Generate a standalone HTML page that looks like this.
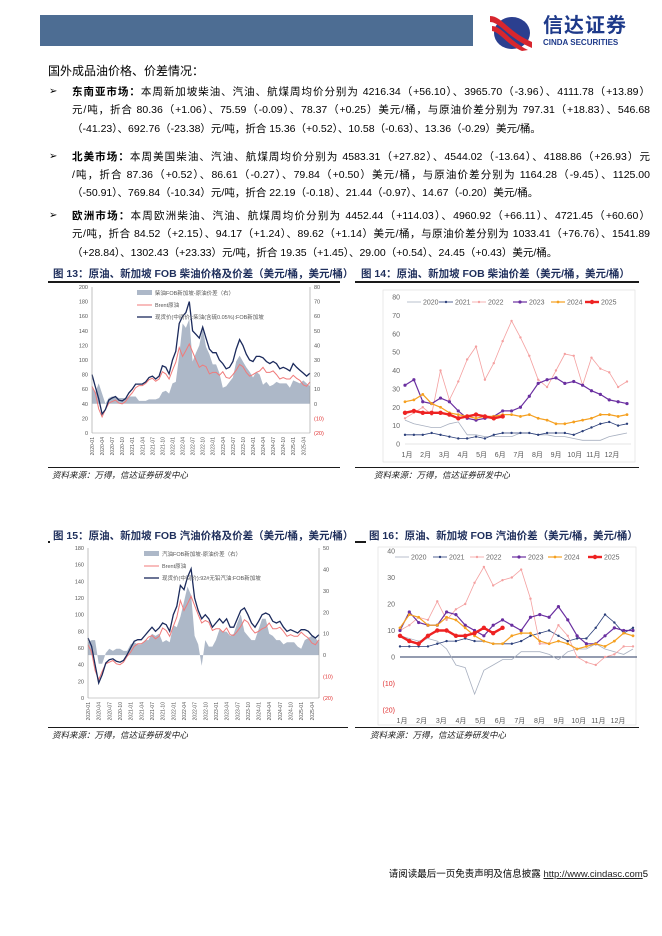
<!DOCTYPE html>
<html><head><meta charset="utf-8">
<style>
body{margin:0;background:#fff;}
#page{position:relative;width:662px;height:936px;overflow:hidden;background:#fff;font-family:"Liberation Sans","Noto Sans CJK SC",sans-serif;color:#000;}
.abs{position:absolute;}
.ln{position:absolute;left:72px;width:578px;font-size:10.5px;white-space:nowrap;text-align:justify;text-align-last:justify;line-height:14px;}
.ln.last{text-align-last:left;}
.bul{position:absolute;left:49px;font-size:10px;}
.cap{position:absolute;font-size:10.5px;font-weight:bold;color:#1f2f5c;background:#fff;padding:0 3px;white-space:nowrap;line-height:13px;}
.rule{position:absolute;height:1.5px;background:#1a1a1a;}
.src{position:absolute;font-size:8.5px;font-style:italic;color:#222;white-space:nowrap;}
svg text{font-family:"Liberation Sans","Noto Sans CJK SC",sans-serif;}
</style></head><body>
<div id="page">
<div class="abs" style="left:40px;top:15px;width:433px;height:31px;background:#4d6d93;"></div>
<svg class="abs" style="left:488px;top:12px" width="46" height="40" viewBox="0 0 46 40">
<ellipse cx="24" cy="21" rx="18" ry="16" fill="#2b3f8f"/>
<path d="M2 4 C14 4 20 20 44 30 L44 36 C20 26 12 10 2 10Z" fill="#d7262e"/>
<path d="M4 14 C14 14 20 28 40 38 L34 39 C18 32 12 20 4 19Z" fill="#d7262e"/>
</svg>
<div class="abs" style="left:543px;top:15px;font-size:20px;font-weight:bold;color:#1e3a8a;letter-spacing:1px;line-height:22px;">信达证券</div>
<div class="abs" style="left:543px;top:38px;font-size:8px;font-weight:bold;color:#1e3a8a;line-height:9px;">CINDA SECURITIES</div>

<div class="abs" style="left:48px;top:64px;font-size:12px;line-height:15px;">国外成品油价格、价差情况：</div>

<div class="bul" style="top:86px">➢</div>
<div class="ln" style="top:85px"><b>东南亚市场：</b>本周新加坡柴油、汽油、航煤周均价分别为 4216.34（+56.10）、3965.70（-3.96）、4111.78（+13.89）</div>
<div class="ln" style="top:103px">元/吨，折合 80.36（+1.06）、75.59（-0.09）、78.37（+0.25）美元/桶，与原油价差分别为 797.31（+18.83）、546.68</div>
<div class="ln last" style="top:122px">（-41.23）、692.76（-23.38）元/吨，折合 15.36（+0.52）、10.58（-0.63）、13.36（-0.29）美元/桶。</div>

<div class="bul" style="top:151px">➢</div>
<div class="ln" style="top:150px"><b>北美市场：</b>本周美国柴油、汽油、航煤周均价分别为 4583.31（+27.82）、4544.02（-13.64）、4188.86（+26.93）元</div>
<div class="ln" style="top:168px">/吨，折合 87.36（+0.52）、86.61（-0.27）、79.84（+0.50）美元/桶，与原油价差分别为 1164.28（-9.45）、1125.00</div>
<div class="ln last" style="top:186px">（-50.91）、769.84（-10.34）元/吨，折合 22.19（-0.18）、21.44（-0.97）、14.67（-0.20）美元/桶。</div>

<div class="bul" style="top:210px">➢</div>
<div class="ln" style="top:209px"><b>欧洲市场：</b>本周欧洲柴油、汽油、航煤周均价分别为 4452.44（+114.03）、4960.92（+66.11）、4721.45（+60.60）</div>
<div class="ln" style="top:227px">元/吨，折合 84.52（+2.15）、94.17（+1.24）、89.62（+1.14）美元/桶，与原油价差分别为 1033.41（+76.76）、1541.89</div>
<div class="ln last" style="top:246px">（+28.84）、1302.43（+23.33）元/吨，折合 19.35（+1.45）、29.00（+0.54）、24.45（+0.43）美元/桶。</div>

<div class="rule" style="left:48px;top:281px;width:292px"></div>
<div class="cap" style="left:50px;top:268px">图 13：原油、新加坡 FOB 柴油价格及价差（美元/桶，美元/桶）</div>
<div class="rule" style="left:355px;top:281px;width:284px"></div>
<div class="cap" style="left:358px;top:268px">图 14：原油、新加坡 FOB 柴油价差（美元/桶，美元/桶）</div>
<div class="rule" style="left:48px;top:467px;width:292px;height:1px"></div>
<div class="rule" style="left:355px;top:467px;width:284px;height:1px"></div>
<div class="src" style="left:52px;top:469px">资料来源：万得，信达证券研发中心</div>
<div class="src" style="left:374px;top:469px">资料来源：万得，信达证券研发中心</div>

<div class="rule" style="left:48px;top:541px;width:300px"></div>
<div class="cap" style="left:50px;top:530px">图 15：原油、新加坡 FOB 汽油价格及价差（美元/桶，美元/桶）</div>
<div class="rule" style="left:355px;top:541px;width:284px"></div>
<div class="cap" style="left:366px;top:530px">图 16：原油、新加坡 FOB 汽油价差（美元/桶，美元/桶）</div>
<div class="rule" style="left:48px;top:727px;width:300px;height:1px"></div>
<div class="rule" style="left:355px;top:727px;width:284px;height:1px"></div>
<div class="src" style="left:52px;top:729px">资料来源：万得，信达证券研发中心</div>
<div class="src" style="left:370px;top:729px">资料来源：万得，信达证券研发中心</div>

<div class="abs" style="right:14px;top:866px;font-size:9.5px;white-space:nowrap;">请阅读最后一页免责声明及信息披露 <span style="text-decoration:underline;color:#222;">http://www.cindasc.com</span>5</div>

<svg id="c" class="abs" style="left:0;top:0" width="662" height="936"></svg>
</div>
<script>
// ---- Chart 13 / 15 data (monthly, 2020-01 .. 2025-06) ----
const monthLabels = ["2020-01","2020-04","2020-07","2020-10","2021-01","2021-04","2021-07","2021-10","2022-01","2022-04","2022-07","2022-10","2023-01","2023-04","2023-07","2023-10","2024-01","2024-04","2024-07","2024-10","2025-01","2025-04"];
const brent = [64,55,33,22,32,41,43,45,41,40,43,50, 55,62,65,65,68,73,75,71,74,84,81,74, 86,97,117,105,113,122,111,100,90,93,91,81, 83,83,79,84,76,75,80,86,94,91,83,78, 80,83,85,90,83,83,85,80,74,76,74,74, 79,75,72,66,64,70];
const dieselSG = [80,63,47,26,32,45,48,50,45,44,47,55, 60,67,67,67,70,76,78,74,78,92,90,81, 100,112,150,160,165,180,140,135,130,145,130,115, 110,110,100,95,88,90,98,115,128,120,108,100, 98,105,105,103,98,95,98,95,88,90,88,85, 95,90,86,82,78,82];
const dieselSpread = [11,8,14,7,0,4,5,5,4,4,4,5, 5,5,2,2,2,3,3,3,4,8,9,7, 14,15,33,55,52,58,29,35,40,52,39,34, 27,27,21,11,12,15,18,29,33,29,25,22, 18,22,20,13,15,12,13,15,14,14,14,11, 16,15,14,16,14,12];
const gasSG = [72,62,40,18,28,42,46,47,44,43,45,52, 60,68,70,70,75,80,85,80,84,90,88,80, 100,110,135,130,145,155,120,105,95,100,95,85, 90,95,90,95,85,85,95,105,108,100,90,85, 92,100,102,100,92,90,92,85,80,82,80,78, 82,82,80,75,72,76];
const gasSpread = [6,7,7,-4,-4,1,3,2,3,3,2,2, 5,6,5,5,7,7,10,9,10,6,7,6, 14,13,18,25,32,28,9,5,-5,7,4,4, 7,12,11,11,9,10,15,19,11,9,7,7, 12,17,17,10,9,7,7,5,6,6,6,4, 3,7,8,9,8,6];
// ---- Chart 14 / 16 data (bi-weekly points per year) ----
const months = ["1月","2月","3月","4月","5月","6月","7月","8月","9月","10月","11月","12月"];
const years = ["2020","2021","2022","2023","2024","2025"];
const d2020 = [13,11,10,9,9,11,12,5,5,4,4,4,4,6,6,5,5,4,4,3,2,2,2,4,5,6];
const d2021 = [5,5,5,6,5,4,3,3,4,3,5,6,6,6,6,5,6,6,6,5,7,9,11,12,10,11];
const d2022 = [14,17,20,16,40,24,34,46,53,35,44,56,67,58,48,35,31,40,49,48,32,47,41,39,31,34];
const d2023 = [32,35,23,22,25,23,18,14,13,14,15,18,18,20,26,33,35,36,33,34,32,29,27,24,23,22];
const d2024 = [23,24,27,22,20,17,16,15,14,15,15,16,16,15,16,14,13,11,11,12,13,14,16,16,15,16];
const d2025 = [17,18,17,17,17,16,14,15,16,15,14,15];
const g2020 = [8,7,6,7,6,3,-3,-4,-14,-5,-3,-1,-1,2,2,2,1,-1,2,3,3,5,3,2,1,3];
const g2021 = [4,4,4,4,5,6,6,7,6,6,5,5,5,6,8,9,10,8,6,7,7,11,16,13,9,11];
const g2022 = [10,12,15,14,21,14,18,20,28,34,27,29,30,33,22,5,5,12,8,0,-2,-3,0,1,4,4];
const g2023 = [10,17,13,12,12,17,16,12,10,8,12,14,12,10,15,16,15,19,14,8,5,5,8,11,10,10];
const g2024 = [11,16,15,12,12,15,14,11,8,6,5,5,8,9,9,6,5,6,5,3,4,5,4,6,9,8];
const g2025 = [8,6,5,8,10,10,8,8,9,11,9,11];

const NS="http://www.w3.org/2000/svg";
const svg=document.getElementById('c');
function mk(tag,attrs,parent){const e=document.createElementNS(NS,tag);for(const k in attrs)e.setAttribute(k,attrs[k]);(parent||svg).appendChild(e);return e;}
function txt(x,y,s,size,fill,anchor,extra){const t=mk('text',Object.assign({x:x,y:y,'font-size':size,fill:fill,'text-anchor':anchor||'start'},extra||{}));t.textContent=s;return t;}

function priceChart(o){
  const n=o.price.length;
  const X=i=>o.L+i*(o.R-o.L)/(n-1);
  const YL=v=>o.B-(v-o.lmin)/(o.lmax-o.lmin)*(o.B-o.T);
  const YR=v=>o.B-(v-o.rmin)/(o.rmax-o.rmin)*(o.B-o.T);
  const g=mk('g',{});
  
  
  let d='M'+X(0)+','+YR(0);
  o.spread.forEach((v,i)=>{d+=' L'+X(i).toFixed(1)+','+YR(v).toFixed(1);});
  d+=' L'+X(n-1)+','+YR(0)+' Z';
  const a=mk('path',{d:d,fill:'#adb8c8'},g);
  
  
  const pl=(arr,col,w,nm)=>{const p=mk('polyline',{points:arr.map((v,i)=>X(i).toFixed(1)+','+YL(v).toFixed(1)).join(' '),fill:'none',stroke:col,'stroke-width':w},g);
    
    };
  pl(o.brent,'#f07a7a',1,'brent-line');
  pl(o.price,'#1b2a5c',1.3,'product-price-line');
  mk('line',{x1:o.L,y1:o.T,x2:o.L,y2:o.B,stroke:'#999','stroke-width':0.6},g);
  mk('line',{x1:o.R,y1:o.T,x2:o.R,y2:o.B,stroke:'#999','stroke-width':0.6},g);
  mk('line',{x1:o.L,y1:o.B,x2:o.R,y2:o.B,stroke:'#999','stroke-width':0.6},g);
  o.lticks.forEach(v=>{const t=txt(o.L-4,YL(v)+2,String(v),5.5,'#555','end',{});
    
    });
  o.rticks.forEach(v=>{const t=txt(o.R+4,YR(v)+2,v<0?'('+(-v)+')':String(v),5.5,v<0?'#e03030':'#555','start',{});
    
    });
  monthLabels.forEach((s,k)=>{const x=X(k*3);const t=txt(x+2,o.B+4,s,5,'#555','end',{transform:'rotate(-90 '+(x+2)+' '+(o.B+4)+')'});
    
    });
  const lx=o.lx,ly=o.ly;
  mk('rect',{x:lx,y:ly-4,width:15,height:5,fill:'#adb8c8'},g);
  txt(lx+18,ly+1,o.leg[0],5.5,'#555');
  mk('line',{x1:lx,y1:ly+11,x2:lx+15,y2:ly+11,stroke:'#f07a7a','stroke-width':1},g);
  txt(lx+18,ly+13,'Brent原油',5.5,'#555');
  mk('line',{x1:lx,y1:ly+23,x2:lx+15,y2:ly+23,stroke:'#1b2a5c','stroke-width':1.3},g);
  txt(lx+18,ly+25,o.leg[2],5.5,'#555');
}
priceChart({name:'fig13-chart',L:92,R:310,T:287,B:433,lmin:0,lmax:200,rmin:-20,rmax:80,price:dieselSG,brent:brent,spread:dieselSpread,
  lticks:[0,20,40,60,80,100,120,140,160,180,200],rticks:[-20,-10,0,10,20,30,40,50,60,70,80],lx:137,ly:294,
  leg:['柴油FOB新加坡-原油价差（右）','','现货价(中间价):柴油(含硫0.05%):FOB新加坡']});
priceChart({name:'fig15-chart',L:88,R:319,T:548,B:698,lmin:0,lmax:180,rmin:-20,rmax:50,price:gasSG,brent:brent,spread:gasSpread,
  lticks:[0,20,40,60,80,100,120,140,160,180],rticks:[-20,-10,0,10,20,30,40,50],lx:144,ly:555,
  leg:['汽油FOB新加坡-原油价差（右）','','现货价(中间价):92#无铅汽油:FOB新加坡']});

const yrStyle=[{c:'#a8b0c0',w:0.8,m:0,nm:'series-2020'},{c:'#2b3f7a',w:0.8,m:1.2,nm:'series-2021'},{c:'#f4a0a0',w:0.8,m:1.2,nm:'series-2022'},{c:'#6a2fa0',w:1.2,m:1.6,nm:'series-2023'},{c:'#f5a020',w:1.2,m:1.4,nm:'series-2024'},{c:'#ee2222',w:2.4,m:2.2,nm:'series-2025'}];
function seasonChart(o){
  const g=mk('g',{});
  
  
  mk('rect',{x:o.bx,y:o.by,width:o.bw,height:o.bh,fill:'none',stroke:'#ddd','stroke-width':0.6},g);
  const X=k=>o.L+k*(o.R-o.L)/25;
  const Y=v=>o.B-(v-o.min)/(o.max-o.min)*(o.B-o.T);
  o.ticks.forEach(v=>{const t=txt(o.L-5,Y(v)+2.5,v<0?'('+(-v)+')':String(v),7,v<0?'#e03030':'#666','end');
    
    });
  const zl=mk('line',{x1:o.L,y1:Y(0),x2:o.R+4,y2:Y(0),stroke:o.zc,'stroke-width':o.zw},g);
  
  
  months.forEach((m,i)=>{const t=txt(o.m0+i*(o.m11-o.m0)/11,o.B+13,m,7,'#555','middle');
    
    });
  o.series.forEach((arr,si)=>{const st=yrStyle[si];
    const p=mk('polyline',{points:arr.map((v,k)=>X(k).toFixed(1)+','+Y(v).toFixed(1)).join(' '),fill:'none',stroke:st.c,'stroke-width':st.w},g);
    
    
    if(st.m)arr.forEach((v,k)=>mk('circle',{cx:X(k),cy:Y(v),r:st.m,fill:st.c},g));
  });
  years.forEach((y,i)=>{const st=yrStyle[i],x=o.L+o.lo[i];
    mk('line',{x1:x,y1:o.ly,x2:x+14,y2:o.ly,stroke:st.c,'stroke-width':st.w},g);
    if(st.m)mk('circle',{cx:x+7,cy:o.ly,r:st.m,fill:st.c},g);
    const t=txt(x+16,o.ly+2.5,y,7,'#666');
    
    });
}
seasonChart({name:'fig14-chart',bx:383,by:290,bw:252,bh:172,L:405,R:627,T:297,B:444,min:0,max:80,ticks:[0,10,20,30,40,50,60,70,80],zc:'#ccc',zw:0.6,m0:407,m11:612,ly:302,
  lo:[2,34,67,108,146,180],
  series:[d2020,d2021,d2022,d2023,d2024,d2025]});
seasonChart({name:'fig16-chart',bx:378,by:547,bw:258,bh:178,L:400,R:633,T:551,B:710,min:-20,max:40,ticks:[-20,-10,0,10,20,30,40],zc:'#2a3a60',zw:1,m0:402,m11:618,ly:557,
  lo:[-5,33,70,112,148,188],
  series:[g2020,g2021,g2022,g2023,g2024,g2025]});
</script>
</body></html>
